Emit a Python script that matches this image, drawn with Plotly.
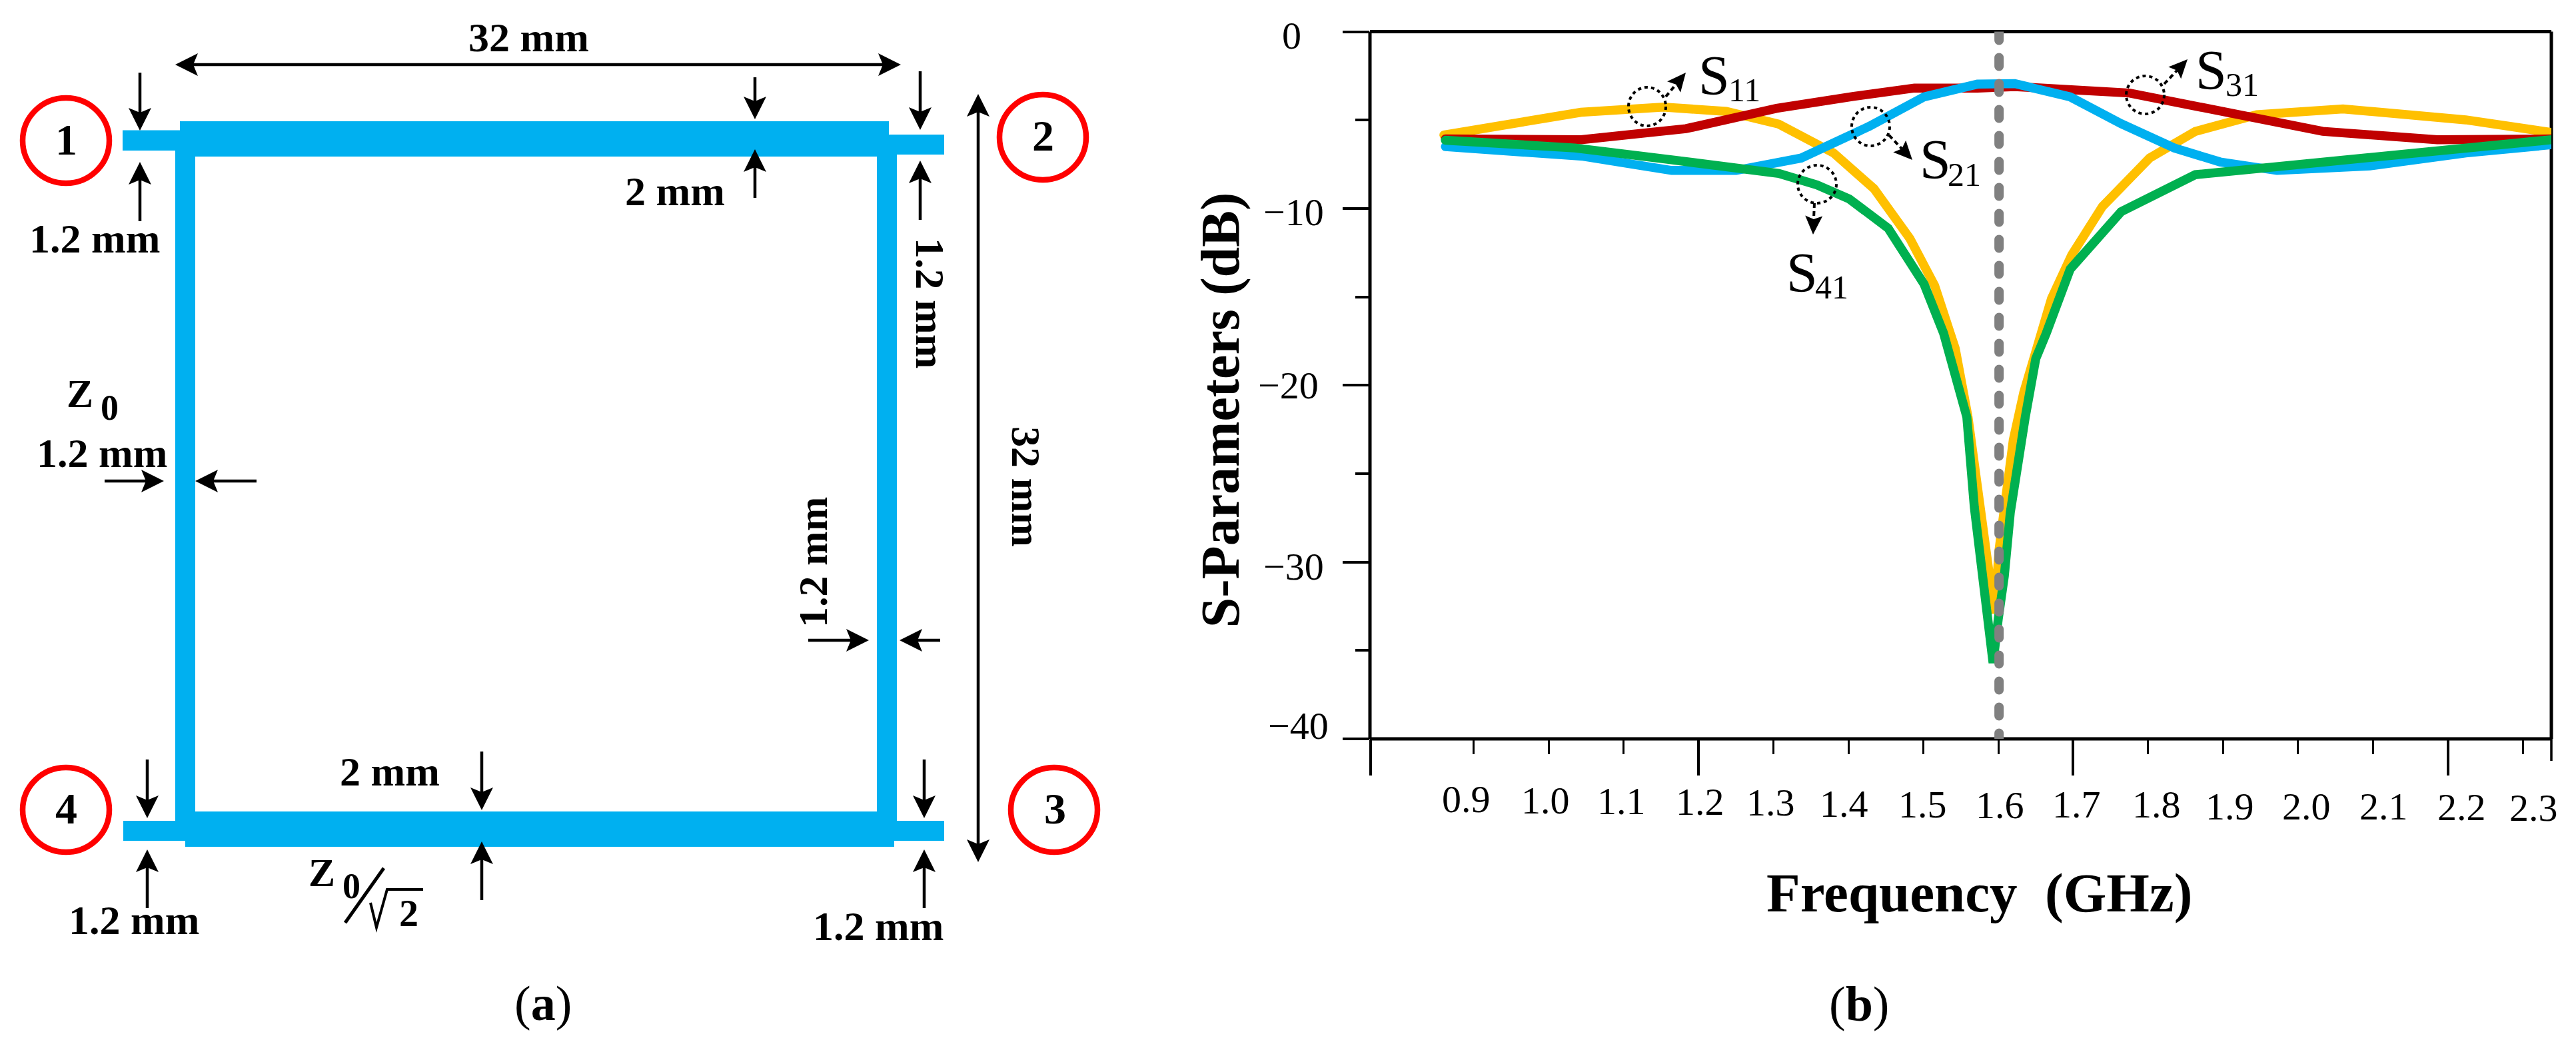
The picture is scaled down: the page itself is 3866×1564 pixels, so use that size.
import plotly.graph_objects as go

W, H = 3866, 1564

# ---------- chart data ----------
s11_f = [0.860,1.043,1.153,1.237,1.307,1.380,1.434,1.482,1.515,1.533,1.5425,1.5596,1.578,1.592,1.595,1.601,1.610,1.620,1.634,1.650,1.671,1.698,1.739,1.802,1.863,1.945,2.060,2.224,2.339]
s11_db = [-5.85,-4.56,-4.27,-4.51,-5.23,-6.86,-8.88,-11.70,-14.36,-16.96,-17.92,-21.8,-27.4,-31.5,-32.9,-29.3,-26.0,-23.1,-20.4,-18.0,-15.1,-12.63,-9.89,-7.15,-5.64,-4.70,-4.37,-4.99,-5.71]
s31_f = [0.862,1.043,1.183,1.304,1.407,1.488,1.572,1.622,1.775,1.896,2.033,2.186,2.339]
s31_db = [-6.07,-6.11,-5.49,-4.34,-3.66,-3.19,-3.19,-3.11,-3.47,-4.48,-5.64,-6.11,-6.07]
s21_f = [0.862,1.046,1.164,1.250,1.337,1.428,1.501,1.572,1.622,1.696,1.764,1.835,1.896,1.972,2.096,2.224,2.337]
s21_db = [-6.50,-7.05,-7.85,-7.85,-7.15,-5.35,-3.69,-2.97,-2.94,-3.69,-5.21,-6.58,-7.37,-7.85,-7.59,-6.86,-6.40]
s41_f = [0.862,1.035,1.164,1.307,1.358,1.401,1.453,1.501,1.527,1.558,1.568,1.580,1.588,1.593,1.600,1.608,1.616,1.622,1.636,1.650,1.664,1.696,1.764,1.863,2.060,2.186,2.339]
s41_db = [-6.14,-6.58,-7.25,-8.02,-8.67,-9.46,-11.12,-14.29,-17.06,-21.8,-26.9,-31.5,-34.4,-35.7,-33.2,-30.8,-27.2,-25.4,-21.8,-18.5,-17.06,-13.43,-10.18,-8.09,-7.22,-6.72,-6.11]
marker_f = [1.601, 1.601]
marker_db = [0, -40.15]

x_tick_labels = ["0.9","1.0","1.1","1.2","1.3","1.4","1.5","1.6","1.7","1.8","1.9","2.0","2.1","2.2","2.3"]
x_minor_ticks = [0.9,1.0,1.1,1.3,1.4,1.5,1.6,1.8,1.9,2.0,2.1,2.3]
x_major_ticks = [0.7618,1.2,1.7,2.2]
y_tick_labels = ["0","\u221210","\u221220","\u221230","\u221240"]
y_major_ticks = [0,-10,-20,-30,-40]
y_minor_ticks = [-5,-15,-25,-35]

x_range = [0.7613, 2.3382]
y_range = [-40, 0]

# ---------- placement ----------
x_label_cx = [2200,2319,2433,2551,2657,2767,2885,3001,3116,3236,3346,3461,3577,3694,3802]
x_label_base = [1219,1221,1222,1223,1224,1226,1227,1228,1227,1227,1230,1230,1230,1231,1232]
y_label_right = [1953,1987,1979,1987,1994]
y_label_base = [73,338,598,870,1109]

SERIF = "Liberation Serif"
BLUE = "#00B0F0"

def px(x): return x / W
def py(y): return 1 - y / H

shapes, notes = [], []

def rect(x0, y0, x1, y1, color=BLUE):
    shapes.append(dict(type="rect", xref="paper", yref="paper", x0=px(x0), x1=px(x1),
                       y0=py(y0), y1=py(y1), fillcolor=color, line=dict(width=0), layer="below"))

def path(points, color="#000", width=4.5, fill=None, close=False, dash=None):
    d = "M " + " L ".join(f"{px(a):.6f},{py(b):.6f}" for a, b in points) + (" Z" if close else "")
    line = dict(color=color, width=width)
    if dash: line["dash"] = dash
    shapes.append(dict(type="path", xref="paper", yref="paper", path=d, line=line,
                       fillcolor=fill if fill else "rgba(0,0,0,0)", layer="above"))

def head(tx, ty, fx, fy, length=34, half=17, notch=7):
    dx, dy = tx - fx, ty - fy
    n = (dx*dx + dy*dy) ** 0.5
    ux, uy = dx/n, dy/n
    bx, by = tx - ux*length, ty - uy*length
    nx, ny = tx - ux*(length-notch), ty - uy*(length-notch)
    path([(tx,ty),(bx-uy*half,by+ux*half),(nx,ny),(bx+uy*half,by-ux*half)], width=0, fill="#000", close=True)
    return nx, ny

def arrow(fx, fy, tx, ty):
    nx, ny = head(tx, ty, fx, fy)
    path([(fx,fy),(nx,ny)])

def double_arrow(ax, ay, bx, by):
    n1 = head(ax, ay, bx, by)
    n2 = head(bx, by, ax, ay)
    path([n1, n2])

def text(cx, base, s, size, angle=0, anchor="center", color="#000", bold=True):
    y = base - 0.3375 * size
    notes.append(dict(xref="paper", yref="paper", x=px(cx), y=py(y), text=f"<b>{s}</b>" if bold else s,
                      showarrow=False, xanchor=anchor, yanchor="middle", textangle=angle, borderpad=0,
                      borderwidth=0, font=dict(family=SERIF, size=size, color=color)))

def vtext(cx, cy, s, size, angle):
    notes.append(dict(xref="paper", yref="paper", x=px(cx), y=py(cy), text=f"<b>{s}</b>", showarrow=False,
                      xanchor="center", yanchor="middle", textangle=angle, borderpad=0, borderwidth=0,
                      font=dict(family=SERIF, size=size, color="#000")))

def circle(x0, y0, x1, y1, color, width, dash=None):
    line = dict(color=color, width=width)
    if dash: line["dash"] = dash
    shapes.append(dict(type="circle", xref="paper", yref="paper", x0=px(x0), x1=px(x1),
                       y0=py(y0), y1=py(y1), line=line, layer="above"))

# ---------- panel (a): the coupler layout ----------
rect(263, 226, 293, 1240)
rect(1316, 226, 1346, 1240)
rect(270, 182, 1334, 235)
rect(278, 1218, 1342, 1271)
rect(184, 195.5, 270, 226)
rect(1334, 202, 1417, 232)
rect(185, 1232, 278, 1262)
rect(1342, 1232, 1417, 1262)

circle(34, 147, 164, 275, "#FF0000", 8.5)
circle(34, 1152, 164, 1279, "#FF0000", 8.5)
circle(1500, 142, 1630, 270, "#FF0000", 8.5)
circle(1517, 1152, 1647, 1279, "#FF0000", 8.5)
text(99.5, 232, "1", 66)
text(99.5, 1236, "4", 66)
text(1565, 226, "2", 66)
text(1583, 1236, "3", 66)

double_arrow(263, 97, 1352, 97)
double_arrow(1468, 141, 1468, 1294)
arrow(210, 109, 210, 196)
arrow(210, 332, 210, 243)
arrow(157, 722, 246, 722)
arrow(385, 722, 293, 722)
arrow(1133, 116, 1133, 179)
arrow(1133, 297, 1133, 224)
arrow(1381, 107, 1381, 195)
arrow(1381, 330, 1381, 241)
arrow(1213, 961, 1304, 961)
arrow(1411, 961, 1350, 961)
arrow(1387, 1140, 1387, 1228)
arrow(1387, 1363, 1387, 1275)
arrow(221, 1140, 221, 1228)
arrow(221, 1363, 221, 1275)
arrow(723, 1128, 723, 1216)
arrow(723, 1351, 723, 1263)

TXT = 62
text(793, 77, "32 mm", TXT)
text(142, 379, "1.2 mm", TXT)
text(153, 701, "1.2 mm", TXT)
text(1013, 308, "2 mm", TXT)
text(585, 1179, "2 mm", TXT)
text(201, 1402, "1.2 mm", TXT)
text(1318, 1411, "1.2 mm", TXT)
vtext(1396, 455, "1.2 mm", TXT, 90)
vtext(1540, 730, "32 mm", TXT, 90)
vtext(1220, 844, "1.2 mm", TXT, -90)
text(120, 611, "Z", 60)
text(164.5, 630, "0", 54)
text(483, 1330, "Z", 60)
text(527, 1348, "0", 54)
text(613, 1390, "2", 58)
path([(576,1303),(518,1385)], width=5)
path([(556,1355),(565,1392),(581,1335),(635,1335)], width=4)

notes.append(dict(xref="paper", yref="paper", x=px(815), y=py(1531-0.3375*74), text="(<b>a</b>)", showarrow=False,
                  xanchor="center", yanchor="middle", borderpad=0, borderwidth=0,
                  font=dict(family=SERIF, size=74, color="#000")))
notes.append(dict(xref="paper", yref="paper", x=px(2790), y=py(1532-0.3375*74), text="(<b>b</b>)", showarrow=False,
                  xanchor="center", yanchor="middle", borderpad=0, borderwidth=0,
                  font=dict(family=SERIF, size=74, color="#000")))

# ---------- panel (b): frame, labels, callouts ----------
for a, b, c, d in [(2056, 47.5, 3829, 47.5), (2056, 1109, 3829, 1109), (2056, 47.5, 2056, 1109), (3829, 47.5, 3829, 1109)]:
    shapes.append(dict(type="line", xref="paper", yref="paper", x0=px(a), x1=px(c), y0=py(b), y1=py(d),
                       line=dict(color="#000", width=5), layer="below"))
shapes.append(dict(type="line", xref="paper", yref="paper", x0=px(3829), x1=px(3829), y0=py(1109), y1=py(1142),
                   line=dict(color="#000", width=3.5), layer="below"))

for lab, cx, base in zip(x_tick_labels, x_label_cx, x_label_base):
    text(cx, base, lab, 58, bold=False)
for lab, right, base in zip(y_tick_labels, y_label_right, y_label_base):
    text(right, base, lab, 58, anchor="right", bold=False)

text(2970, 1368, "Frequency\u00a0\u00a0(GHz)", 83)
notes.append(dict(xref="paper", yref="paper", x=px(1859-0.3375*82), y=py(615), text="<b>S-Parameters (dB)</b>",
                  showarrow=False, xanchor="center", yanchor="middle", textangle=-90, borderpad=0, borderwidth=0,
                  font=dict(family=SERIF, size=82, color="#000")))

callouts = [
    ("11", 2572, 142, 2618, 152, (2444,131,2500,189), (2500,145), (2530,109)),
    ("21", 2904, 268, 2948, 279, (2779,161,2836,219), (2835,203), (2870,240)),
    ("31", 3318, 134, 3365, 143.5, (3191,114,3248,171), (3248,126), (3283,89)),
    ("41", 2704, 438, 2749, 448, (2698,248,2756,305), (2723,305), (2721,352)),
]
for sub, sx, sb, ux, ub, box, tail, tip in callouts:
    text(sx, sb, "S", 84, bold=False)
    text(ux, ub, sub, 50, bold=False)
    circle(box[0], box[1], box[2], box[3], "#000", 4, dash="5px,5px")
    n = head(tip[0], tip[1], tail[0], tail[1], length=28, half=13, notch=5)
    path([tail, n], width=4, dash="7px,5px")

# ---------- traces ----------
fig = go.Figure()
series = [("S11", s11_f, s11_db, "#FFC000"), ("S31", s31_f, s31_db, "#C00000"),
          ("S21", s21_f, s21_db, BLUE), ("S41", s41_f, s41_db, "#00B050")]
for name, fx, db, col in series:
    fig.add_trace(go.Scatter(x=fx, y=db, name=name, mode="lines", cliponaxis=False,
                             line=dict(color=col, width=13.5)))
fig.add_trace(go.Scatter(x=marker_f, y=marker_db, mode="lines", name="1.6 GHz", cliponaxis=False,
                         line=dict(color="#808080", width=14, dash="13px,26px")))

fig.update_layout(
    width=W, height=H, autosize=False, showlegend=False,
    margin=dict(l=0, r=0, t=0, b=0), paper_bgcolor="#fff", plot_bgcolor="rgba(0,0,0,0)",
    shapes=shapes, annotations=notes,
    xaxis=dict(domain=[2056/W, 3829/W], range=x_range, showgrid=False, zeroline=False, showline=False,
               showticklabels=False, ticks="outside", tickmode="array", tickvals=x_major_ticks,
               ticklen=54, tickwidth=3.5, tickcolor="#000",
               minor=dict(tickmode="array", tickvals=x_minor_ticks, ticks="outside", ticklen=22, tickwidth=3, tickcolor="#000")),
    yaxis=dict(domain=[1-1109/H, 1-47.5/H], range=y_range, showgrid=False, zeroline=False, showline=False,
               showticklabels=False, ticks="outside", tickmode="array", tickvals=y_major_ticks,
               ticklen=40, tickwidth=4, tickcolor="#000",
               minor=dict(tickmode="array", tickvals=y_minor_ticks, ticks="outside", ticklen=21, tickwidth=3.5, tickcolor="#000")),
)

post = """
document.documentElement.style.margin='0';document.body.style.margin='0';document.body.style.overflow='hidden';
document.querySelectorAll('.scatterlayer .js-line').forEach(function(p){p.style.strokeLinecap='round';});
"""
fig.write_html("out.html", post_script=post, config={"displayModeBar": False})
